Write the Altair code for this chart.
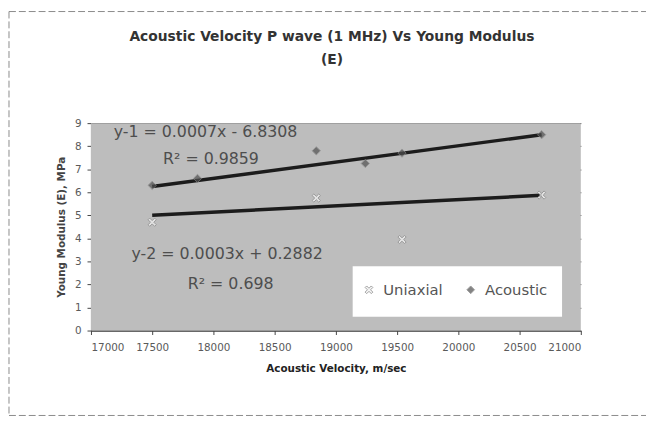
import altair as alt
import pandas as pd

# Data
acoustic_v = [17500, 17870, 18840, 19240, 19540, 20680]
acoustic_e = [6.3, 6.6, 7.8, 7.25, 7.7, 8.5]
uniaxial_v = [17500, 18840, 19540, 20680]
uniaxial_e = [4.7, 5.75, 3.95, 5.88]

# Trend lines as drawn
trend_v = [17500, 20680]
acoustic_trend = [6.25, 8.5]
uniaxial_trend = [5.0, 5.87]

x_ticks = [17000, 17500, 18000, 18500, 19000, 19500, 20000, 20500, 21000]
y_ticks = [0, 1, 2, 3, 4, 5, 6, 7, 8, 9]

title_lines = ["Acoustic Velocity P wave (1 MHz) Vs  Young Modulus", "(E)"]
eq_texts = ["y-1 = 0.0007x - 6.8308", "R\u00b2 = 0.9859",
            "y-2 = 0.0003x + 0.2882", "R\u00b2 = 0.698"]

series_names = ["Uniaxial", "Acoustic"]

df = pd.DataFrame({
    "v": acoustic_v + uniaxial_v,
    "E": acoustic_e + uniaxial_e,
    "series": ["Acoustic"] * len(acoustic_v) + ["Uniaxial"] * len(uniaxial_v),
})
trend_df = pd.DataFrame({
    "v": trend_v + trend_v,
    "E": acoustic_trend + uniaxial_trend,
    "series": ["Acoustic"] * 2 + ["Uniaxial"] * 2,
})

FONT = "DejaVu Sans"
W, H = 496, 210

xsc = alt.Scale(domain=[17000, 21000], nice=False, zero=False)
ysc = alt.Scale(domain=[0, 9], nice=False)

xax = alt.Axis(values=x_ticks, format="d", title="Acoustic Velocity, m/sec", grid=False,
               labelFont=FONT, labelFontSize=10.5, labelColor="#5a5a5a",
               titleFont=FONT, titleFontSize=10.5, titleFontWeight="bold",
               titleColor="#222222", titlePadding=11, tickColor="#444444",
               tickSize=4, domainColor="#444444", labelPadding=8)
yax = alt.Axis(values=y_ticks, format="d", title="Young Modulus (E), MPa", grid=True,
               labelOverlap=False, gridColor="#2e2e2e", gridWidth=1,
               labelFont=FONT, labelFontSize=10.5, labelColor="#5a5a5a",
               titleFont=FONT, titleFontSize=10.5, titleFontWeight="bold",
               titleColor="#444444", titlePadding=8, tickColor="#444444",
               tickSize=4, domainColor="#444444", labelPadding=6)

XSHAPE = "M-1,-0.6L-0.6,-1L0,-0.4L0.6,-1L1,-0.6L0.4,0L1,0.6L0.6,1L0,0.4L-0.6,1L-1,0.6L-0.4,0Z"

color = alt.Color("series:N",
                  scale=alt.Scale(domain=series_names, range=["#f4f4f4", "#505050"]),
                  legend=alt.Legend(title=None, orient="none", legendX=274, legendY=161,
                                    direction="horizontal", padding=0,
                                    labelFont=FONT, labelFontSize=15,
                                    labelColor="#555555", symbolSize=60,
                                    columnPadding=20, labelOffset=7,
                                    symbolStrokeColor="#777777", symbolStrokeWidth=1))
shape = alt.Shape("series:N",
                  scale=alt.Scale(domain=series_names, range=[XSHAPE, "diamond"]),
                  legend=None)

one = pd.DataFrame({"k": [0]})

bg = alt.Chart(one).mark_rect(fill="#bdbdbd").encode(
    x=alt.value(0), x2=alt.value(W), y=alt.value(0), y2=alt.value(H))

legend_box = alt.Chart(one).mark_rect(fill="white").encode(
    x=alt.value(265), x2=alt.value(477), y=alt.value(145), y2=alt.value(196))

dash = dict(stroke="#8a8a8a", strokeWidth=1, strokeDash=[7, 3])
frame_left = alt.Chart(one).mark_rule(**dash).encode(
    x=alt.value(-83), y=alt.value(-113), y2=alt.value(296))
frame_top = alt.Chart(one).mark_rule(**dash).encode(
    x=alt.value(-83), x2=alt.value(562), y=alt.value(-113))
frame_bottom = alt.Chart(one).mark_rule(**dash).encode(
    x=alt.value(-83), x2=alt.value(562), y=alt.value(296))

lines = alt.Chart(trend_df).mark_line(color="#1c1c1c", strokeWidth=3.5).encode(
    x=alt.X("v:Q", scale=xsc, axis=xax),
    y=alt.Y("E:Q", scale=ysc, axis=yax),
    detail="series:N",
)

points = alt.Chart(df).mark_point(filled=True, size=70, stroke="#8a8a8a", strokeWidth=1).encode(
    x=alt.X("v:Q", scale=xsc, axis=xax),
    y=alt.Y("E:Q", scale=ysc, axis=yax),
    color=color,
    shape=shape,
)

def label(txt, px, py, size=16, weight="normal", col="#4e4e4e", align="left"):
    return alt.Chart(pd.DataFrame({"t": [txt]})).mark_text(
        font=FONT, fontSize=size, fontWeight=weight, color=col, align=align,
        baseline="middle"
    ).encode(x=alt.value(px), y=alt.value(py), text="t:N")

texts = (label(eq_texts[0], 23, 9) + label(eq_texts[1], 73, 36)
         + label(eq_texts[2], 41, 133) + label(eq_texts[3], 98, 163))

titles = (label(title_lines[0], 244, -87, size=14, weight="bold", col="#333333", align="center")
          + label(title_lines[1], 244, -64, size=14, weight="bold", col="#333333", align="center"))

chart = alt.layer(bg, lines, legend_box, points, texts, titles,
                  frame_left, frame_top, frame_bottom).properties(
    width=W, height=H,
    background="white",
    autosize=alt.AutoSizeParams(type="none"),
    padding={"left": 84, "top": 114, "right": 66, "bottom": 89},
).configure_view(stroke="transparent")

chart.save("out.html", embed_options={"renderer": "svg", "actions": False})
